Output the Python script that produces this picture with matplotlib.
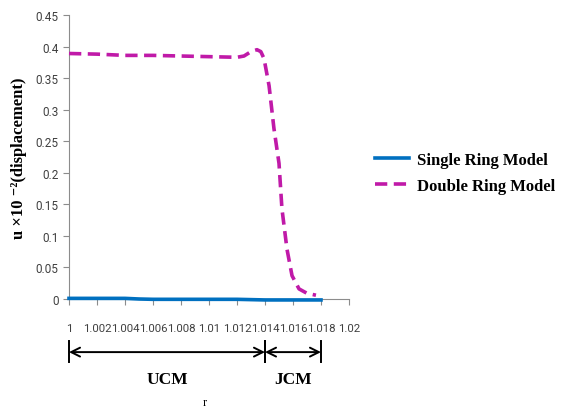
import numpy as np
import matplotlib
matplotlib.use("Agg")
from matplotlib import pyplot as plt
import matplotlib.transforms as mtransforms

# data
r_single = [1.0, 1.002, 1.004, 1.005, 1.006, 1.008, 1.010, 1.012, 1.013, 1.014, 1.016, 1.018]
u_single = [0.001, 0.001, 0.001, 0.0, -0.0005, -0.0005, -0.0005, -0.0005, -0.001, -0.0015, -0.0015, -0.0015]

r_double = [1.0, 1.002, 1.004, 1.006, 1.008, 1.010, 1.012, 1.0125, 1.0130, 1.01343,
            1.0137, 1.01393, 1.01429, 1.01464, 1.0150, 1.01521, 1.01557, 1.01593,
            1.01643, 1.0170, 1.01764]
u_double = [0.389, 0.388, 0.386, 0.386, 0.385, 0.384, 0.383, 0.385, 0.392, 0.395,
            0.392, 0.381, 0.338, 0.270, 0.215, 0.143, 0.079, 0.037,
            0.016, 0.009, 0.006]

xticks = [1.0, 1.002, 1.004, 1.006, 1.008, 1.010, 1.012, 1.014, 1.016, 1.018, 1.020]
xtick_labels = ["1", "1.002", "1.004", "1.006", "1.008", "1.01", "1.012", "1.014", "1.016", "1.018", "1.02"]
yticks = [0, 0.05, 0.1, 0.15, 0.2, 0.25, 0.3, 0.35, 0.4, 0.45]
ytick_labels = ["0", "0.05", "0.1", "0.15", "0.2", "0.25", "0.3", "0.35", "0.4", "0.45"]

regions = [("UCM", 1.0, 1.014), ("JCM", 1.014, 1.018)]

serif = ["Liberation Serif", "DejaVu Serif"]

fig = plt.figure(figsize=(5.76, 4.10), dpi=100)
ax = fig.add_axes([69 / 576, 1 - 300 / 410, (349 - 69) / 576, (300 - 16) / 410])

ax.plot(r_single, u_single, color="#0070C0", lw=2.6, label="Single Ring Model", clip_on=False, zorder=3)
ax.plot(r_double, u_double, color="#C01AA8", lw=2.6, ls=(0, (3.4, 1.8)), label="Double Ring Model",
        clip_on=False, zorder=3)

ax.set_xlim(1.0, 1.02)
ax.set_ylim(0, 0.45)
ax.set_xticks(xticks)
ax.set_xticklabels(xtick_labels)
ax.set_yticks(yticks)
ax.set_yticklabels(ytick_labels)

for s in ["top", "right"]:
    ax.spines[s].set_visible(False)
for s in ["left", "bottom"]:
    ax.spines[s].set_color("#8c8c8c")
ax.tick_params(axis="both", colors="#8c8c8c", length=4, width=0.8, labelcolor="#404040",
               labelsize=8.5)
ax.tick_params(axis="x", pad=13, labelsize=8.2)
for lab in ax.get_xticklabels() + ax.get_yticklabels():
    lab.set_fontfamily("Roboto")

ax.set_ylabel("u \u00d710 \u207b\u00b2(displacement)", family=serif, fontweight="bold",
              fontsize=12, labelpad=6)

leg = ax.legend(loc="center left", bbox_to_anchor=(1.04, 0.445), frameon=False,
                prop={"family": serif, "weight": "bold", "size": 12},
                handlelength=2.0, handletextpad=0.5, labelspacing=0.6)

# region arrows under the axis
trans = mtransforms.blended_transform_factory(ax.transData, ax.transAxes)
y_arrow = -0.187
for name, r0, r1 in regions:
    ax.annotate("", xy=(r1, y_arrow), xytext=(r0, y_arrow), xycoords=trans, textcoords=trans,
                arrowprops=dict(arrowstyle="<->", color="black", lw=1.4,
                                mutation_scale=16, shrinkA=0, shrinkB=0))
    for rr in (r0, r1):
        ax.plot([rr, rr], [-0.148, -0.222], color="black", lw=1.4, transform=trans, clip_on=False)
    ax.text((r0 + r1) / 2, -0.28, name, transform=trans, ha="center", va="center",
            family=serif, fontweight="bold", fontsize=12.5)

fig.text(205 / 576, 1 - 397 / 410, "r", family=serif, fontsize=9, ha="center", va="top")

fig.savefig("out.png", dpi=100)
